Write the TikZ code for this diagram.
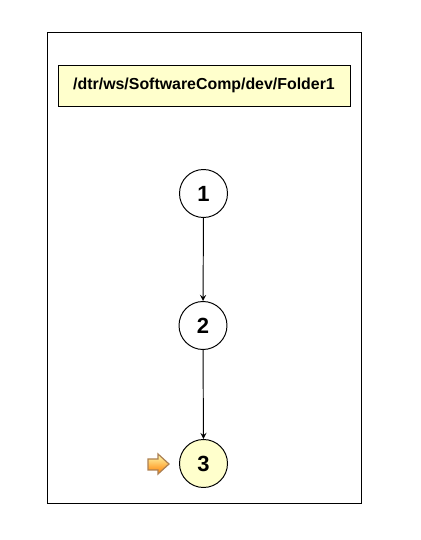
\documentclass[tikz,border=0pt]{standalone}
\usepackage{fontspec}
\setmainfont{Liberation Sans}
\definecolor{paleyellow}{RGB}{255,255,204}
\tikzset{
  every path/.style={line width=0.55pt},
  stepnode/.style={circle, draw, minimum size=0.96cm, inner sep=0pt, font=\bfseries\fontsize{12.5}{14}\selectfont},
  pathbox/.style={draw, fill=paleyellow, minimum width=5.84cm, minimum height=0.82cm, inner sep=0pt, font=\bfseries\fontsize{9.05}{11}\selectfont},
  markerarrow/.style={draw=brown!70!gray, line width=0.7pt, top color=yellow!30, middle color=yellow!75, bottom color=orange}
}
\begin{document}
\begin{tikzpicture}[>=stealth]
    \useasboundingbox (0,0) rectangle (8.4,10.8);
    \node[draw, minimum width=6.28cm, minimum height=9.42cm, inner sep=0pt] (frame) at (4.08,5.45) {};
    \node[pathbox] (title) at (4.08,9.09) {/dtr/ws/SoftwareComp/dev/Folder1};

    \node[stepnode] (N1) at (4.07,6.93) {1};
    \node[stepnode] (N2) at (4.06,4.29) {2};
    \node[stepnode, fill=paleyellow] (N3) at (4.07,1.53) {3};
\draw[->](N1)--(N2);
\draw[->](N2)--(N3);

    \path[markerarrow] (2.96,1.62) -- (3.16,1.62) -- (3.16,1.72) -- (3.38,1.52) -- (3.16,1.32) -- (3.16,1.40) -- (2.96,1.40) -- cycle;
\end{tikzpicture}
\end{document}
